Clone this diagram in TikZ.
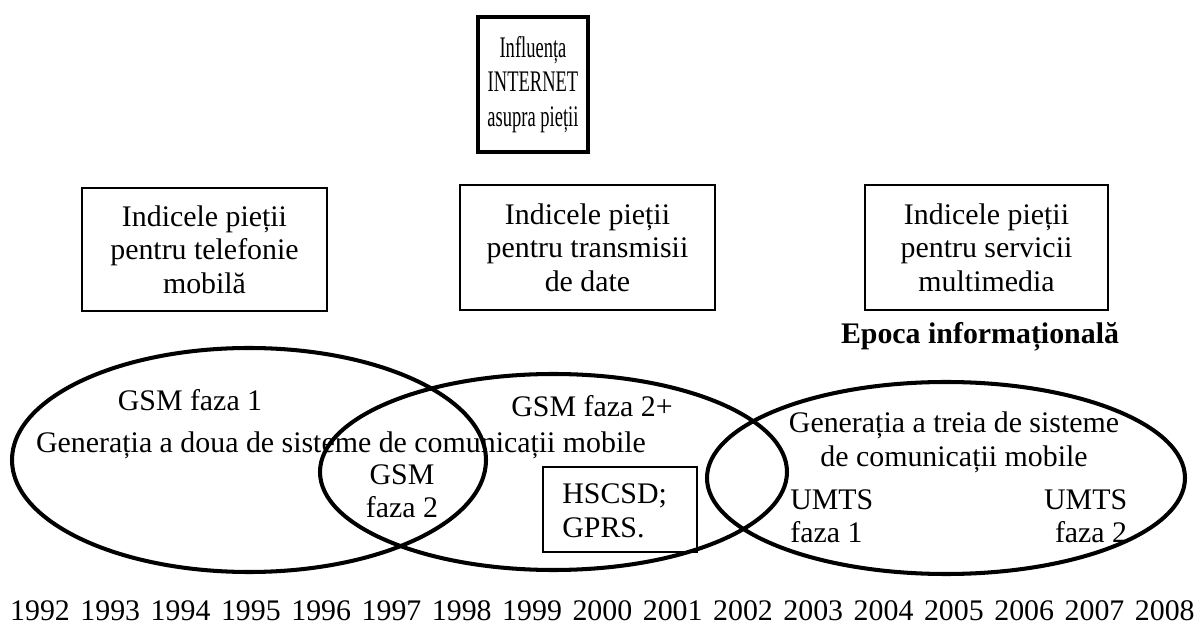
\documentclass[tikz,border=0pt]{standalone}
\usepackage{fontspec}
\setmainfont{Liberation Serif}
\newfontfamily\ingust[FakeStretch=0.62]{Liberation Serif}
\usepackage{tikz}
\usetikzlibrary{positioning}

\begin{document}
\begin{tikzpicture}[
    font=\fontsize{17}{19}\selectfont,
    box/.style={draw, line width=1.1pt, align=center, inner sep=0pt},
    oval/.style={line width=2.3pt},
    txt/.style={align=center, inner sep=0pt}
]
    \useasboundingbox (0,0) rectangle (24.06,12.52);
    % influenta INTERNET
    \node[box, line width=2.3pt, minimum width=2.2cm, minimum height=2.7cm, font=\ingust\fontsize{17}{19.5}\selectfont] (inet) at (10.66,10.83) {Influența\\INTERNET\\asupra pieții};
    % indicii pietei
    \node[box, minimum width=4.9cm, minimum height=2.46cm] (telefonie) at (4.09,7.53) {Indicele pieții\\pentru telefonie\\mobilă};
    \node[box, minimum width=5.1cm, minimum height=2.5cm] (date) at (11.75,7.57) {Indicele pieții\\pentru transmisii\\de date};
    \node[box, minimum width=4.86cm, minimum height=2.5cm] (multimedia) at (19.73,7.57) {Indicele pieții\\pentru servicii\\multimedia};
    \node[txt, font=\fontsize{17}{19}\selectfont\bfseries] (epoca) at (19.6,5.78) {Epoca informațională};
    % elipsele generatiilor
    \draw[oval] (4.98,3.32) ellipse (4.74 and 2.24);
    \draw[oval] (11.07,3.08) ellipse (4.67 and 1.96);
    \draw[oval] (18.92,2.96) ellipse (4.78 and 1.92);
    % generatia a doua
    \node[txt] (faza1) at (3.80,4.52) {GSM faza 1};
    \node[txt] (gen2) at (6.82,3.62) {Generația a doua de sisteme de comunicații mobile};
    \node[txt] (faza2p) at (11.84,4.40) {GSM faza 2+};
    \node[txt] (faza2) at (8.04,2.70) {GSM\\faza 2};
    \node[box, line width=0.8pt, minimum width=3.08cm, minimum height=1.7cm] (hscsdbox) at (12.40,2.33) {};
    \node[txt, align=left, anchor=west] (hscsd) at (11.24,2.30) {HSCSD;\\GPRS.};
    % generatia a treia
    \node[txt] (gen3) at (19.08,3.67) {Generația a treia de sisteme\\de comunicații mobile};
    \node[txt, align=left, anchor=west] (umts1) at (15.80,2.20) {UMTS\\faza 1};
    \node[txt, align=right, anchor=east] (umts2) at (22.55,2.20) {UMTS\\faza 2};
    % anii
    \foreach \an [count=\i from 0] in {1992,...,2008} {
        \node[txt] (an\an) at ({0.80+1.406*\i},0.30) {\an};
    }
\end{tikzpicture}
\end{document}
